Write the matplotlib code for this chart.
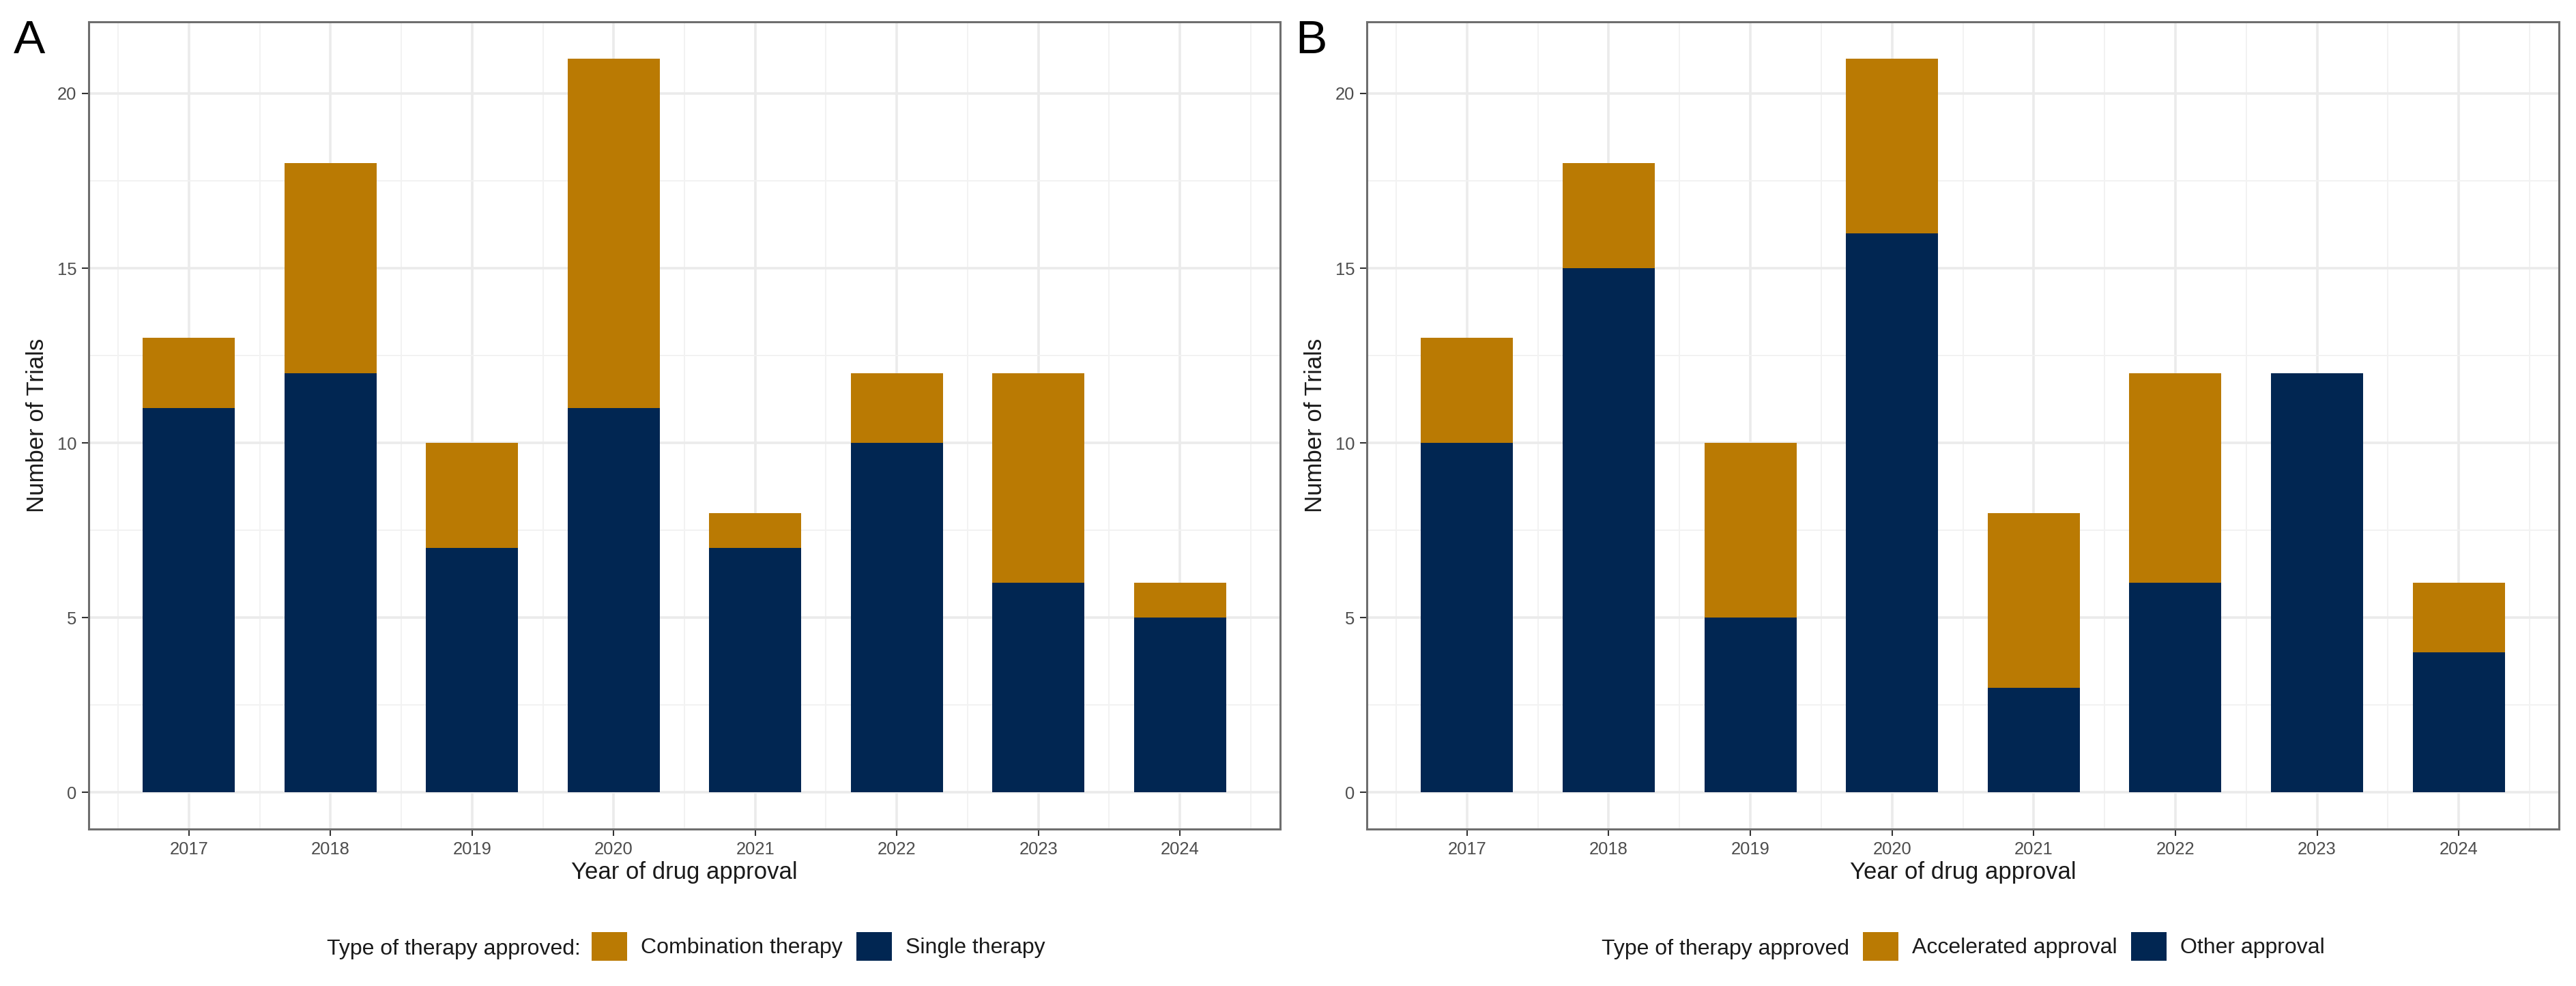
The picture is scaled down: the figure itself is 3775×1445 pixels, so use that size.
import matplotlib
matplotlib.use('Agg')
import matplotlib.pyplot as plt
from matplotlib.patches import Patch
from matplotlib.ticker import MultipleLocator, FixedLocator

plt.rcParams['font.family'] = ['Liberation Sans', 'DejaVu Sans']

# ---------------- data ----------------
years = [2017, 2018, 2019, 2020, 2021, 2022, 2023, 2024]
y_ticks = [0, 5, 10, 15, 20]

# Panel A
single_therapy = [11, 12, 7, 11, 7, 10, 6, 5]
combination_therapy = [2, 6, 3, 10, 1, 2, 6, 1]

# Panel B
other_approval = [10, 15, 5, 16, 3, 6, 12, 4]
accelerated_approval = [3, 3, 5, 5, 5, 6, 0, 2]

ORANGE = '#BA7A03'
NAVY = '#012652'

W, H = 3775, 1445
fig = plt.figure(figsize=(W / 100, H / 100), dpi=100)
fig.patch.set_facecolor('white')

BAR_W = 0.65
PAD = 0.05 * (years[-1] - years[0] + BAR_W) + BAR_W / 2


def px_axes(l, r, t, b):
    return fig.add_axes([l / W, 1 - b / H, (r - l) / W, (b - t) / H])


panels = [
    dict(l=130, r=1876, bottom=single_therapy, top=combination_therapy,
         bottom_lab='Single therapy', top_lab='Combination therapy',
         title='Type of therapy approved:', letter='A', letter_x=20,
         title_right=851, key_x=867),
    dict(l=2003, r=3750, bottom=other_approval, top=accelerated_approval,
         bottom_lab='Other approval', top_lab='Accelerated approval',
         title='Type of therapy approved', letter='B', letter_x=1898,
         title_right=2710, key_x=2730),
]

for p in panels:
    ax = px_axes(p['l'], p['r'], 32, 1215)
    ax.bar(years, p['bottom'], width=BAR_W, color=NAVY, zorder=2, linewidth=0)
    ax.bar(years, p['top'], bottom=p['bottom'], width=BAR_W, color=ORANGE,
           zorder=2, linewidth=0)
    ax.set_xlim(years[0] - PAD, years[-1] + PAD)
    ax.set_ylim(-1.05, 22.05)
    ax.set_xticks(years)
    ax.set_xticklabels([str(y) for y in years])
    ax.set_yticks(y_ticks)
    ax.xaxis.set_minor_locator(FixedLocator([years[0] - 0.5] + [y + 0.5 for y in years]))
    ax.yaxis.set_minor_locator(MultipleLocator(2.5))
    ax.grid(which='major', color='#EBEBEB', lw=2.6, zorder=0)
    ax.grid(which='minor', color='#F2F2F2', lw=1.4, zorder=0)
    ax.set_axisbelow(True)
    ax.tick_params(which='minor', length=0)
    ax.tick_params(which='major', length=7.2, width=1.5, color='#333333',
                   labelsize=18.4, labelcolor='#4D4D4D', pad=5.5)
    for s in ax.spines.values():
        s.set_color('#6E6E6E')
        s.set_linewidth(2.2)
    ax.set_xlabel('Year of drug approval', fontsize=25, color='#1A1A1A', labelpad=4)
    ax.set_ylabel('Number of Trials', fontsize=25, color='#1A1A1A', labelpad=9)

    handles = [Patch(facecolor=ORANGE, edgecolor='none', label=p['top_lab']),
               Patch(facecolor=NAVY, edgecolor='none', label=p['bottom_lab'])]
    ax.legend(handles=handles, loc='center left',
              bbox_to_anchor=(p['key_x'] / W, 1 - 1387 / H),
              bbox_transform=fig.transFigure, ncol=2, frameon=False,
              fontsize=23, handlelength=1.63, handleheight=1.63,
              handletextpad=0.63, columnspacing=0.63, borderpad=0,
              borderaxespad=0, labelcolor='#1A1A1A')
    fig.text(p['title_right'] / W, 1 - 1387 / H, p['title'], ha='right',
             va='center_baseline', fontsize=23, color='#1A1A1A')
    fig.text(p['letter_x'] / W, 1 - 78 / H, p['letter'], ha='left',
             va='baseline', fontsize=50, color='black')

fig.savefig('out.png', dpi=100, facecolor='white')
